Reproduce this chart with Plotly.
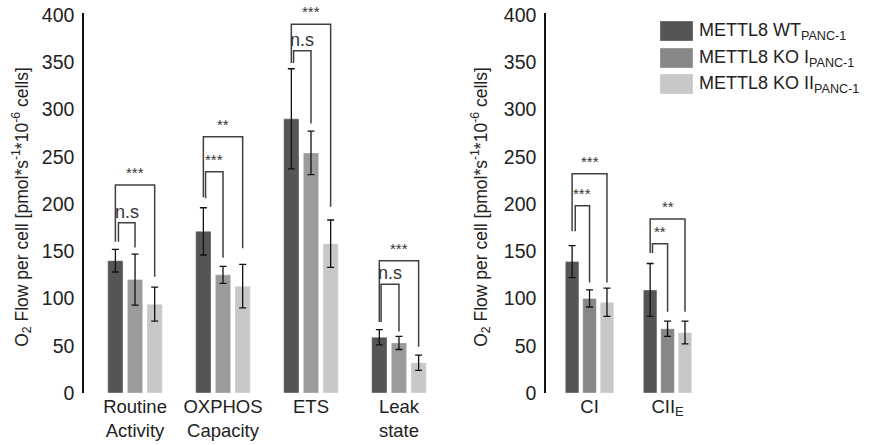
import plotly.graph_objects as go

# ---- data ----
left_categories = ["Routine<br>Activity", "OXPHOS<br>Capacity", "ETS", "Leak<br>state"]
right_categories = ["CI", "CII<sub>E</sub>"]

series_names = ["METTL8 WT", "METTL8 KO I", "METTL8 KO II"]

left_wt = [140, 171, 290, 59]
left_wt_err = [12, 25, 53, 8]
left_ko1 = [120, 125, 254, 53]
left_ko1_err = [27, 9, 23, 7]
left_ko2 = [94, 113, 158, 32]
left_ko2_err = [18, 23, 25, 8]

right_wt = [139, 109]
right_wt_err = [17, 28]
right_ko1 = [100, 68]
right_ko1_err = [9, 8]
right_ko2 = [96, 64]
right_ko2_err = [15, 12]

y_ticks = [0, 50, 100, 150, 200, 250, 300, 350, 400]

# significance brackets: (category index, series a, series b, bracket top, leg a bottom, leg b bottom, label, leg a nudge)
left_brackets = [
    (0, 0, 1, 180, 160, 154, "n.s", 0.035),
    (0, 0, 2, 220, 160, 123, "***", 0.0),
    (1, 0, 1, 234, 206, 143, "***", 0.025),
    (1, 0, 2, 271, 207, 153, "**", 0.0),
    (2, 0, 1, 362, 349, 285, "n.s", 0.025),
    (2, 0, 2, 390, 349, 197, "***", 0.0),
    (3, 0, 1, 115, 75, 65, "n.s", 0.02),
    (3, 0, 2, 140, 75, 49, "***", 0.0),
]
right_brackets = [
    (0, 0, 1, 198, 171, 117, "***", 0.04),
    (0, 0, 2, 232, 171, 117, "***", 0.0),
    (1, 0, 1, 158, 148, 86, "**", 0.03),
    (1, 0, 2, 184, 148, 86, "**", 0.0),
]

# ---- style ----
FONT = "Arial, Liberation Sans, Helvetica, sans-serif"
c_wt = "#555555"
c_ko1_left = "#9b9b9b"
c_ko1_right = "#878787"
c_ko2 = "#c8c8c8"
bracket_color = "#404040"
text_color = "#222222"

BARGAP = 0.33
PITCH = (1 - BARGAP) / 3

fig = go.Figure()


def add_bars(cats, vals, errs, color, name, xa, ya):
    fig.add_trace(go.Bar(
        x=list(range(len(cats))), y=vals, name=name,
        marker=dict(color=color, line=dict(color="rgba(255,255,255,0.6)", width=0.6)),
        error_y=dict(type="data", array=errs, visible=True, color="#111111",
                     thickness=1.3, width=3.5),
        xaxis=xa, yaxis=ya, showlegend=False,
    ))


add_bars(left_categories, left_wt, left_wt_err, c_wt, series_names[0], "x", "y")
add_bars(left_categories, left_ko1, left_ko1_err, c_ko1_left, series_names[1], "x", "y")
add_bars(left_categories, left_ko2, left_ko2_err, c_ko2, series_names[2], "x", "y")
add_bars(right_categories, right_wt, right_wt_err, c_wt, series_names[0], "x2", "y2")
add_bars(right_categories, right_ko1, right_ko1_err, c_ko1_right, series_names[1], "x2", "y2")
add_bars(right_categories, right_ko2, right_ko2_err, c_ko2, series_names[2], "x2", "y2")

shapes = []
annotations = []


def add_brackets(brackets, xref, yref):
    for cat, a, b, top, ya, yb, label, nudge in brackets:
        xa = cat + (a - 1) * PITCH + nudge
        xb = cat + (b - 1) * PITCH
        path = f"M {xa} {ya} L {xa} {top} L {xb} {top} L {xb} {yb}"
        shapes.append(dict(type="path", path=path, xref=xref, yref=yref,
                           line=dict(color=bracket_color, width=1.5)))
        is_ns = label == "n.s"
        annotations.append(dict(
            x=(xa + xb) / 2, y=top, xref=xref, yref=yref, text=label,
            showarrow=False, yanchor="bottom", yshift=-1 if is_ns else 2,
            font=dict(family=FONT, size=18 if is_ns else 15, color="#333333"),
        ))


add_brackets(left_brackets, "x", "y")
add_brackets(right_brackets, "x2", "y2")

# legend drawn as boxes with subscripted labels
legend_colors = [c_wt, c_ko1_right, c_ko2]
legend_rows_px = [31, 58, 84]
H, T, B = 445, 13, 52
plot_h = H - T - B
for color, name, row in zip(legend_colors, series_names, legend_rows_px):
    yc = (H - B - row) / plot_h
    half = 10 / plot_h
    shapes.append(dict(type="rect", xref="paper", yref="paper",
                       x0=660 / 879, x1=693 / 879, y0=yc - half, y1=yc + half,
                       fillcolor=color, line=dict(color="rgba(255,255,255,0.5)", width=0.6)))
    annotations.append(dict(
        x=697 / 879, y=yc, xref="paper", yref="paper", xanchor="left", yanchor="middle",
        text=f"{name}<sub>PANC-1</sub>", showarrow=False,
        font=dict(family=FONT, size=18, color=text_color),
    ))

# y-axis titles
y_title = "O<sub>2</sub> Flow per cell [pmol*s<sup>-1</sup>*10<sup>-6</sup> cells]"
for xpx in (22, 481):
    annotations.append(dict(
        x=xpx / 879, y=0.49, xref="paper", yref="paper", text=y_title,
        textangle=-90, showarrow=False, xanchor="center", yanchor="middle",
        font=dict(family=FONT, size=17.5, color=text_color),
    ))

axis_y = dict(range=[0, 402], tickvals=y_ticks, ticks="", showgrid=False, zeroline=False,
              showline=True, linecolor="#111111", linewidth=1.5,
              tickfont=dict(family=FONT, size=19.5, color=text_color), ticklabelstandoff=4)

fig.update_layout(
    width=879, height=445,
    margin=dict(l=0, r=0, t=T, b=B),
    paper_bgcolor="white", plot_bgcolor="white",
    barmode="group", bargap=BARGAP, bargroupgap=0.22,
    showlegend=False,
    xaxis=dict(domain=[84 / 879, 450 / 879], range=[-0.58, 3.58],
               tickvals=list(range(len(left_categories))), ticktext=left_categories,
               showline=False, showgrid=False, zeroline=False, ticks="",
               tickfont=dict(family=FONT, size=18.5, color=text_color)),
    xaxis2=dict(domain=[546 / 879, 730 / 879], range=[-0.558, 1.8], anchor="y2",
                tickvals=list(range(len(right_categories))), ticktext=right_categories,
                showline=False, showgrid=False, zeroline=False, ticks="",
                tickfont=dict(family=FONT, size=18.5, color=text_color)),
    yaxis=dict(**axis_y, anchor="x"),
    yaxis2=dict(**axis_y, anchor="x2"),
    shapes=shapes,
    annotations=annotations,
)

fig.write_html("out.html")
